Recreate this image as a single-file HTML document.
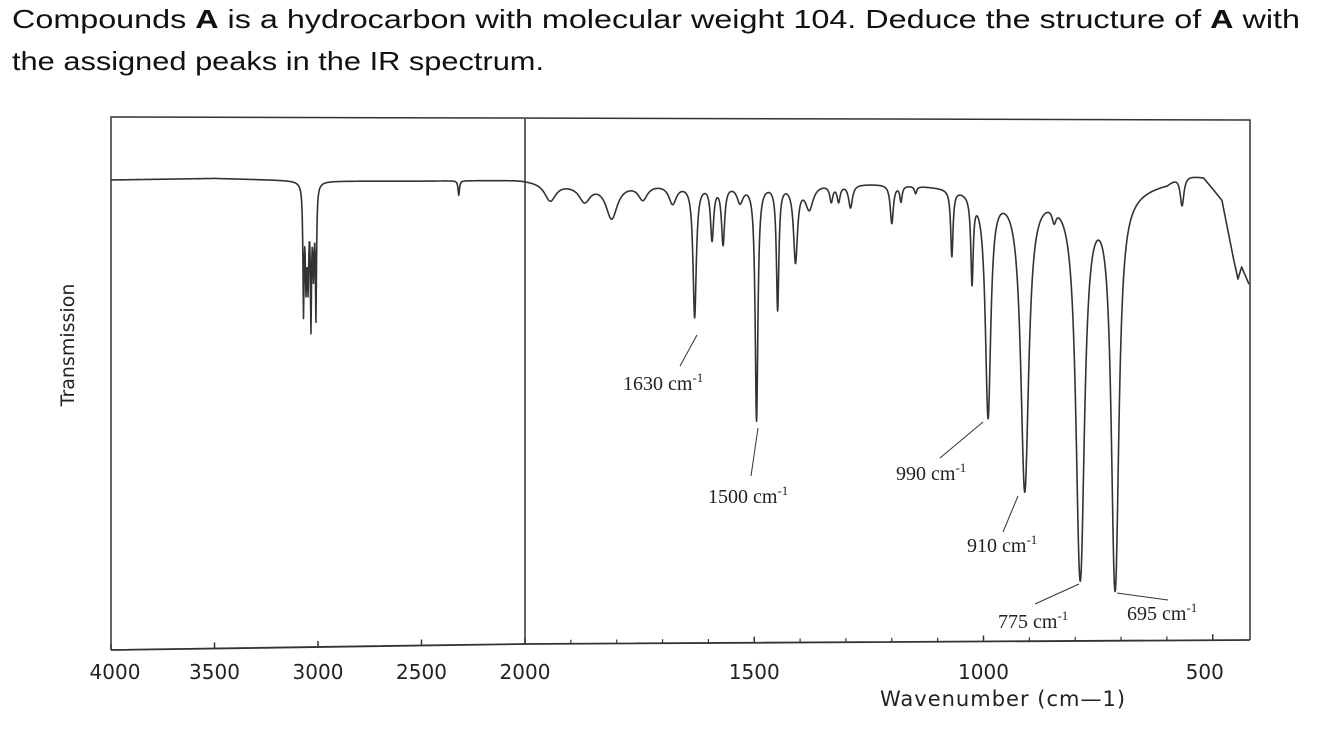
<!DOCTYPE html>
<html><head><meta charset="utf-8"><style>
html,body{margin:0;padding:0;background:#fff;width:1328px;height:742px;overflow:hidden}
svg{display:block}
.t{font-family:"Liberation Sans",sans-serif;font-size:26px;fill:#111}
.tick{font-family:"DejaVu Sans","Liberation Sans",sans-serif;font-size:20px;fill:#222;text-anchor:middle}
.ann{font-family:"Liberation Serif",serif;font-size:20px;fill:#222}
</style></head><body>
<svg id="chart" width="1328" height="742" viewBox="0 0 1328 742">
<text class="t" x="12" y="28" textLength="1288" lengthAdjust="spacingAndGlyphs">Compounds <tspan font-weight="bold">A</tspan> is a hydrocarbon with molecular weight 104.  Deduce the structure of <tspan font-weight="bold">A</tspan> with</text>
<text class="t" x="12" y="70" textLength="532" lengthAdjust="spacingAndGlyphs">the assigned peaks in the IR spectrum.</text>
<g id="frame"></g>
<g id="axis"></g>
<path id="spec" fill="none" stroke="#333" stroke-width="1.6" stroke-linejoin="round"/>
<g id="ann"></g>
<text class="tick" x="1003" y="706" style="font-size:21px;letter-spacing:1px">Wavenumber (cm—1)</text>
<text class="tick" transform="translate(74,345) rotate(-90)" style="font-size:19px">Transmission</text>
</svg>
<script>
const NS="http://www.w3.org/2000/svg";
// Data
const tickValues=[4000,3500,3000,2500,2000,1500,1000,500];
const tickLabels=["4000","3500","3000","2500","2000","1500","1000","500"];
const baseNu=[4000,3500,3000,2500,2000,1900,1200,1000,700,600,570,520,480,455,445,437,421];
const baseT=[88.2,88.5,88,88,88.2,87.6,87.6,86.8,86.5,88,89.8,89,84.6,73.5,69.5,71.8,68.5];
const peakNu=[3070,3058,3048,3034,3022,3010,2320,1945,1870,1811,1743,1678,1630,1592,1568,1531,1495,1449,1410,1380,1332,1316,1290,1200,1180,1148,1069,1025,990,910,846,789,713,567];
const peakT=[64,70,70,62,72,63,85.3,84.4,84.4,81.1,84.8,84,62.3,77.3,76.4,84.4,42.5,63.8,73,83,84.5,84.5,83.2,80.2,84.5,86,74.3,70,43.4,29.1,84,12,10,83.8];
const peakW=[3,4,4,3,4,3,4,15,15,15,12,10,4,4,4,8,3,3,5,10,4,4,5,4,3,3,3,3,6,8,5,7,6,5];
const annLabels=["1630","1500","990","910","775","695"];
// scales
function xs(nu){return nu>=2000?111+(4000-nu)*0.207:525+(2000-nu)*0.4585;}
function ys(T){return 643-T*5.25;}
function base(nu){
  for(let i=0;i<baseNu.length-1;i++){
    if(nu<=baseNu[i]&&nu>=baseNu[i+1]){const f=(baseNu[i]-nu)/(baseNu[i]-baseNu[i+1]);return baseT[i]+f*(baseT[i+1]-baseT[i]);}
  }
  return baseT[baseT.length-1];
}
const amp=peakNu.map((c,i)=>Math.log10(base(c)/peakT[i]));
function T(nu){let A=0;for(let i=0;i<peakNu.length;i++){const d=(nu-peakNu[i])/peakW[i];A+=amp[i]/(1+d*d);}return base(nu)*Math.pow(10,-A);}
let d="";
for(let nu=4000;nu>=421;nu-=(nu>2000?2:0.5)){d+=(d?"L":"M")+xs(nu).toFixed(2)+","+ys(T(nu)).toFixed(2);}
const sp=document.getElementById("spec");sp.setAttribute("d",d);
function mk(tag,attrs,parent){const e=document.createElementNS(NS,tag);for(const k in attrs)e.setAttribute(k,attrs[k]);parent.appendChild(e);return e;}
const fr=document.getElementById("frame");
const box=mk("path",{d:"M111,650 L111,117 L1250,120 L1250,640 M525,119 L525,644",fill:"none",stroke:"#333","stroke-width":"1.5"},fr);


const ax=document.getElementById("axis");
const axl=mk("path",{d:"M111,650 L525,644 L1250,640",fill:"none",stroke:"#333","stroke-width":"1.8"},ax);


function axisY(x){return x<=525?650-(x-111)*6/414:644-(x-525)*4/725;}
tickValues.forEach((v,i)=>{
  const x=xs(v),y=axisY(x);
  const tk=mk("line",{x1:x,y1:y,x2:x,y2:y-6,stroke:"#333","stroke-width":"1.5"},ax);
  
  
  const tl=mk("text",{x:x+(v===500?-8:(v===4000?4:0)),y:679,class:"tick"},ax);tl.textContent=tickLabels[i];
  
  
});
for(let v=1900;v>=500;v-=100){if(v%500===0)continue;const x=xs(v),y=axisY(x);
  const m=mk("line",{x1:x,y1:y,x2:x,y2:y-4,stroke:"#333","stroke-width":"1.2"},ax);
  
  }
const annPos=[[623,390,697,335,680,366],[708,503,758,428,751,476],[896,480,983,422,940,458],[967,552,1018,496,1003,532],[998,628,1079,584,1035,604],[1127,620,1117,593,1168,600]];
const an=document.getElementById("ann");
annLabels.forEach((lab,i)=>{const p=annPos[i];
  const ln=mk("line",{x1:p[2],y1:p[3],x2:p[4],y2:p[5],stroke:"#333","stroke-width":"1"},an);
  
  
  const t=mk("text",{x:p[0],y:p[1],class:"ann"},an);
  t.innerHTML=lab+" cm<tspan dy='-8' font-size='13'>-1</tspan>";
  
  
});
</script>
</body></html>
